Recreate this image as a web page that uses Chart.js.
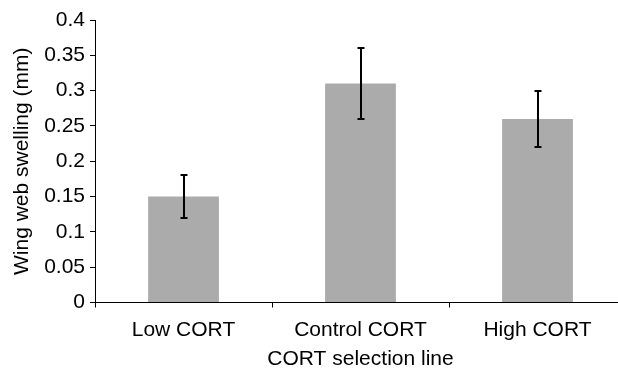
<!DOCTYPE html>
<html>
<head>
<meta charset="utf-8">
<script src="https://cdn.jsdelivr.net/npm/chart.js@4/dist/chart.umd.min.js"></script>
<style>
html,body{margin:0;padding:0;background:#fff;overflow:hidden;}
#outer{width:618px;height:368px;overflow:hidden;position:relative;}
#wrap{width:640px;height:368px;position:absolute;left:0;top:0;}
</style>
</head>
<body>
<div id="outer"><div id="wrap"><canvas id="c"></canvas></div></div>
<script>
const categories = ["Low CORT", "Control CORT", "High CORT"];
const means = [0.15, 0.31, 0.26];
const errLow = [0.12, 0.26, 0.22];
const errHigh = [0.18, 0.36, 0.30];
const yTicks = [0, 0.05, 0.1, 0.15, 0.2, 0.25, 0.3, 0.35, 0.4];

const errorBars = {
  id: 'errorBars',
  afterDatasetsDraw(chart) {
    const ctx = chart.ctx;
    const meta = chart.getDatasetMeta(0);
    const y = chart.scales.y;
    ctx.save();
    ctx.strokeStyle = '#000';
    ctx.lineWidth = 2;
    meta.data.forEach((bar, i) => {
      const x = Math.round(bar.x);
      const yTop = Math.round(y.getPixelForValue(errHigh[i]));
      const yBot = Math.round(y.getPixelForValue(errLow[i]));
      ctx.beginPath();
      ctx.moveTo(x, yTop); ctx.lineTo(x, yBot);
      ctx.moveTo(x - 3.5, yTop); ctx.lineTo(x + 3.5, yTop);
      ctx.moveTo(x - 3.5, yBot); ctx.lineTo(x + 3.5, yBot);
      ctx.stroke();
    });
    ctx.restore();
  }
};

const font = {family: "'Liberation Sans', Arial, sans-serif", size: 21};

new Chart(document.getElementById('c'), {
  type: 'bar',
  data: {
    labels: categories,
    datasets: [{
      data: means,
      backgroundColor: '#ababab',
      borderWidth: 0,
      barPercentage: 0.4,
      categoryPercentage: 1.0
    }]
  },
  options: {
    responsive: true,
    maintainAspectRatio: false,
    animation: false,
    devicePixelRatio: 1,
    layout: {padding: {top: 20, right: 14, left: 0, bottom: 0}},
    plugins: {legend: {display: false}, tooltip: {enabled: false}},
    scales: {
      x: {
        offset: true,
        afterFit(axis) { axis.height = 65.5; },
        grid: {display: true, drawOnChartArea: false, drawTicks: true, tickLength: 5, color: '#000', offset: true},
        border: {display: true, color: '#000', width: 1},
        ticks: {color: '#000', font: font, padding: 10},
        title: {display: true, text: 'CORT selection line', color: '#000', font: font, padding: {top: 0, bottom: -4}}
      },
      y: {
        min: 0, max: 0.4,
        afterFit(axis) { axis.width = 95; },
        afterBuildTicks(axis) { axis.ticks = yTicks.map(v => ({value: v})); },
        grid: {display: true, drawOnChartArea: false, drawTicks: true, tickLength: 5, color: '#000'},
        border: {display: true, color: '#000', width: 1},
        ticks: {color: '#000', font: font, padding: 5, callback: v => String(v)},
        title: {display: true, text: 'Wing web swelling (mm)', color: '#000', font: font, padding: {top: 10, bottom: 0}}
      }
    }
  },
  plugins: [errorBars]
});
</script>
</body>
</html>
